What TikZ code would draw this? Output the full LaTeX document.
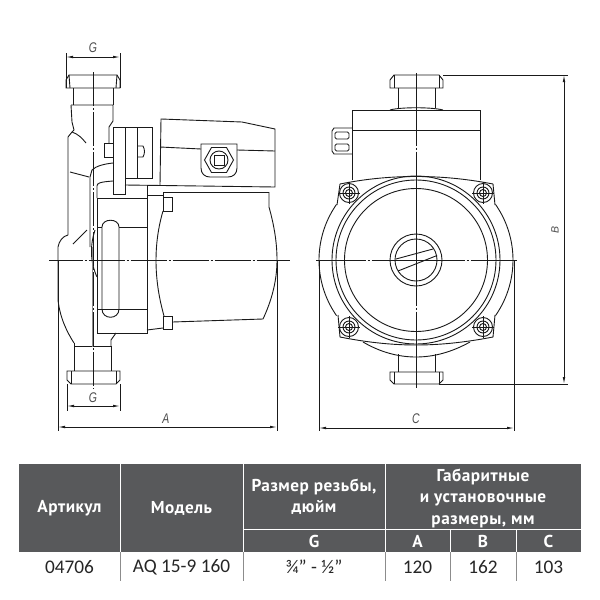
\documentclass[tikz,border=0pt]{standalone}
\usepackage{fontspec}
\setmainfont{Carlito}
\newfontfamily\headfont[LetterSpace=3]{PT Sans}
\newfontfamily\dimfont{Liberation Sans}
\usetikzlibrary{arrows.meta}
\definecolor{headgray}{HTML}{58595B}
\definecolor{inkgray}{HTML}{1A1A1A}
\begin{document}
\begin{tikzpicture}[x=1pt,y=-1pt,line width=.9pt,color=inkgray,
  cl/.style 2 args={line width=.8pt,dash pattern=on #1pt off 2pt on 2pt off 2pt,dash phase=#2pt},
  thin/.style={line width=.7pt},
  dim/.style={line width=.8pt,{Latex[length=7pt,width=2.6pt]}-{Latex[length=7pt,width=2.6pt]}},
  dimtext/.style={font=\dimfont\itshape\fontsize{14}{14}\selectfont,color=black!70,inner sep=0pt,xscale=.75},
  head/.style={font=\headfont\bfseries\fontsize{17.2}{21.5}\selectfont,text=white,align=center,inner sep=0pt},
  cell/.style={font=\fontsize{19.3}{20}\selectfont,text=black!85,inner sep=0pt}]
\useasboundingbox (0,0) rectangle (600,600);
\fill[white] (0,0) rectangle (600,600);
% side view
\draw (66,88)--(66,80)--(69,75)--(117,75)--(120,80)--(120,88)--cycle;
\draw (69,75)--(70,88) (117,75)--(116,88);
\draw (73,88)--(73,105) (113,88)--(113,105);
\draw (71,105)--(113,105)--(113,121)--(109,127)--(109,143);
\draw (71,105)--(72,122)--(74,130)--(72,132)--(68,137)--(68,235);
\draw (72,132)..controls (78,134) and (82,138) .. (86,143);
\draw (70,172)--(89,177);
\draw (90,247)--(90,177)--(92,170)..controls (96,166) and (104,164) .. (113,163);
\draw (97,198)--(97,186)..controls (97,183) and (100,182) .. (113,181);
\draw (113,127) rectangle (125,194);
\draw (125,127) rectangle (152,178);
\draw (137,127)--(137,178);
\draw (104,143) rectangle (113,157);
\draw (137,146)--(143,146)..controls (145,150) and (145,153) .. (143,157)--(137,157);
% terminal box
\draw (160,185)--(161,119)--(242,122)--(275,129)--(275,187)--(125,185);
\draw (160,147)--(201,149) (237,150)--(275,151);
\draw (201,144)--(237,144)--(237,168)..controls (237,174) and (233,177) .. (228,177)--(210,177)..controls (205,177) and (201,174) .. (201,168)--cycle;
\draw (204.5,160)--(211.5,147.5)--(226.5,147.5)--(233.5,160)--(226.5,172.5)--(211.5,172.5)--cycle;
\draw (219,160) circle (9);
\draw (214,155) rectangle (224,165);
% flange and motor
\draw (97,198)--(97,333)--(147,333)--(147,185);
\draw (97,198)--(147,198) (97,227)--(102,227) (119,227)--(147,227) (97,309)--(147,309);
\draw (102,309)--(102,227)..controls (102,218) and (119,218) .. (119,227)--(119,309)..controls (119,320) and (102,320) .. (102,309);
\draw (147,195)--(163,195) (163,192)--(269,192);
\draw (163,192)--(163,211) (163,197) rectangle (172.5,211);
\draw (163,211)..controls (158,228) and (156,245) .. (156,260)..controls (156,280) and (159,298) .. (164,316);
\draw (163,316) rectangle (172.5,329);
\draw (147,330)--(163,328) (172.5,322)--(263,319);
\draw (269,192)--(269,207)..controls (274,225) and (277,242) .. (277,260)..controls (277,282) and (271,302) .. (263,319);
% volute
\draw (58,260)--(58,247)..controls (59,241) and (63,236) .. (68,235);
\draw (87,230)--(73,244);
\draw (58,260)--(58,300)..controls (60,318) and (67,332) .. (74,343);
\draw (95,230)..controls (90,245) and (90,262) .. (97,277);
\draw (74,343)--(74,371) (111,346)--(111,371) (74,346)--(111,346);
\draw (111,346)--(111,340)--(116,333);
\draw[thin,black!45] (92,247)--(92,347);
\draw (67,371)--(120,371)--(120,380)--(116,384)--(71,384)--(67,380)--cycle;
\draw (71,371)--(71,384) (116,371)--(116,384);
% side view axes
\draw[cl={34}{0}] (93,72)--(93,389);
\draw[cl={36}{2.5}] (49,260)--(290,260);
% side view dimensions
\draw[thin] (66,53)--(66,88) (120,53)--(120,88);
\draw[dim] (66,57)--(120,57);
\node[dimtext] (gtop) at (93,48) {G};
\draw[thin] (67,384)--(67,411) (120,384)--(120,411);
\draw[dim] (67,406)--(120,406);
\node[dimtext] (gbot) at (93,398) {G};
\draw[thin] (58,260)--(58,431) (277,260)--(277,431);
\draw[dim] (58,427)--(277,427);
\node[dimtext] (alabel) at (166,419) {A};
% front view
\draw (390,88)--(390,80)--(394,75)--(439,75)--(443,80)--(443,88)--cycle;
\draw (394,75)--(394,88) (439,75)--(439,88);
\draw (398,88)--(398,108) (435,88)--(435,108);
\draw (390,110)..controls (400,107) and (432,107) .. (443,110);
\draw (352,180)--(352,110)--(480,110)--(480,180) (352,130)--(480,130);
\draw (352,128)--(334,128)--(332,131)--(332,151)--(334,154)--(352,154);
\draw[rounded corners=1.5pt] (335,132) rectangle (349,139);
\draw[rounded corners=1.5pt] (335,144) rectangle (349,151);
\draw (340,184)..controls (370,178) and (395,176.5) .. (416,176.5)..controls (437,176.5) and (462,178) .. (493,184);
\draw (340,184)--(337,205) (493,184)--(495,205);
\draw (338,315)--(340,337)..controls (370,343) and (395,345) .. (416,345)..controls (437,345) and (462,343) .. (493,337)--(495,315);
\draw (363,342)..controls (380,352) and (398,357) .. (416,357)..controls (434,357) and (452,352) .. (470,342);
\draw plot[domain=145:215,samples=30,smooth] ({416+97*cos(\x)},{260+97*sin(\x)});
\draw plot[domain=-35:35,samples=30,smooth] ({416+97*cos(\x)},{260+97*sin(\x)});
\foreach \r in {71.5,80,84} \draw (416,260) circle (\r);
\draw (416,260) circle (26);
\draw (416,260) circle (21);
\draw (396,259)--(433,249) (398,271)--(437,255.5);
\foreach \bx/\by in {349/193,483/193,349/327,483/327}{
  \fill[white] (\bx,\by) circle (9.5);
  \draw (\bx,\by) circle (9.5);
  \draw (\bx,\by) circle (6);
  \draw (\bx,\by) circle (3.5);
  \draw[thin] (\bx-11,\by)--(\bx+11,\by) (\bx,\by-11)--(\bx,\by+11);
}
\draw (398,354)--(398,372) (435,354)--(435,372);
\draw (390,372)--(443,372)--(443,380)--(439,384)--(394,384)--(390,380)--cycle;
\draw (394,372)--(394,384) (439,372)--(439,384);
% front view axes
\draw[cl={154}{81.5}] (416,73)--(416,388);
\draw[cl={93}{43.5}] (316,260)--(517,260);
% front view dimensions
\draw[thin] (319,260)--(319,431) (514,260)--(514,431);
\draw[dim] (319,428)--(514,428);
\node[dimtext] (clabel) at (416,419) {C};
\draw[thin] (443,75)--(568,75) (439,384)--(568,384);
\draw[dim] (564,75)--(564,384);
\node[dimtext,xscale=1,yscale=.75,rotate=90] (blabel) at (555,230) {B};
% table
\fill[headgray] (19,464) rectangle (581,552);
\draw[white,line width=1pt] (120,464)--(120,552) (243,464)--(243,552) (385,464)--(385,552)
  (243,529)--(581,529) (450,529)--(450,552) (516,529)--(516,552) (19,552)--(581,552);
\draw[black!45,line width=.8pt] (120,552)--(120,581) (243,552)--(243,581) (385,552)--(385,581)
  (450,552)--(450,581) (516,552)--(516,581);
\node[head] (artikul) at (69.5,508) {Артикул};
\node[head] (model) at (181.5,508) {Модель};
\node[head] (thread) at (314,496.5) {Размер резьбы,\\дюйм};
\node[head] (sizes) at (483,498) {Габаритные\\и установочные\\размеры, мм};
\node[head] (colg) at (314,541) {G};
\node[head] (cola) at (417.5,541) {A};
\node[head] (colb) at (483,541) {B};
\node[head] (colc) at (548.5,541) {C};
\node[cell] (vart) at (69.5,567) {04706};
\node[cell] (vmod) at (181.5,567) {AQ 15-9 160};
\node[cell] (vg) at (314,567) {¾" - ½"};
\node[cell] (va) at (417.5,567) {120};
\node[cell] (vb) at (483,567) {162};
\node[cell] (vc) at (548.5,567) {103};
\end{tikzpicture}
\end{document}
